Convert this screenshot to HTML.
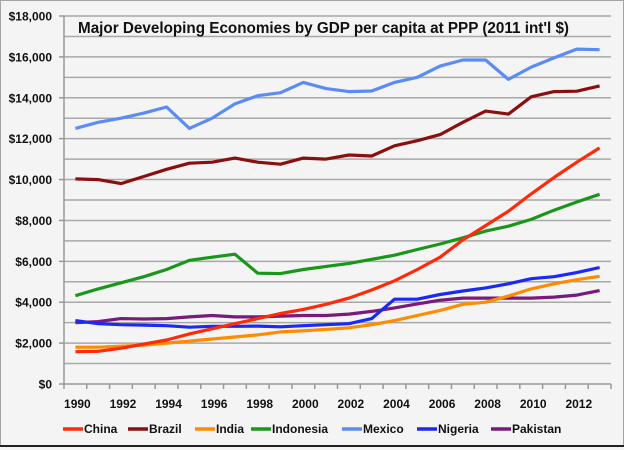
<!DOCTYPE html>
<html><head><meta charset="utf-8"><style>
html,body{margin:0;padding:0;background:#fff;}
svg{display:block;font-family:"Liberation Sans",sans-serif;}
</style></head><body>
<svg id="chart" width="624" height="450" viewBox="0 0 624 450">
<rect x="0" y="0" width="624" height="450" fill="#f4f4f4"/>
<rect x="0.5" y="0.5" width="623" height="445" fill="none" stroke="#555" stroke-dasharray="1,1"/>
<line x1="0" y1="446" x2="624" y2="446" stroke="#222" stroke-width="2"/>
<g id="grid"></g><g id="axes"></g><g id="series"></g><g id="legend"></g>
<text x="78" y="33" font-size="16" font-weight="bold" fill="#111" textLength="491" lengthAdjust="spacingAndGlyphs">Major Developing Economies by GDP per capita at PPP (2011 int'l $)</text>
</svg>
<script>
const years = [1990,1991,1992,1993,1994,1995,1996,1997,1998,1999,2000,2001,2002,2003,2004,2005,2006,2007,2008,2009,2010,2011,2012,2013];
const seriesNames = ["China","Brazil","India","Indonesia","Mexico","Nigeria","Pakistan"];
const seriesColors = ["#ff2a0a","#8b0f0f","#ff8c00","#1a961a","#5b8cf5","#1a2af5","#7a1a7a"];
const china = [1580,1600,1750,1950,2150,2450,2700,2950,3200,3450,3650,3900,4200,4600,5050,5600,6200,7050,7750,8450,9300,10100,10850,11550];
const brazil = [10030,10000,9800,10150,10500,10800,10850,11050,10850,10750,11050,11000,11200,11150,11650,11900,12200,12800,13350,13200,14050,14300,14320,14580];
const india = [1800,1800,1850,1900,2000,2100,2200,2300,2400,2550,2600,2670,2750,2900,3100,3350,3600,3900,4000,4300,4650,4900,5100,5270];
const indonesia = [4320,4650,4950,5250,5600,6050,6200,6350,5420,5400,5600,5750,5900,6100,6300,6580,6850,7150,7480,7720,8050,8500,8900,9280];
const mexico = [12500,12800,13000,13250,13550,12500,13000,13700,14100,14250,14750,14450,14300,14330,14750,15000,15550,15850,15850,14900,15500,15950,16380,16350];
const nigeria = [3100,2950,2900,2880,2850,2780,2820,2820,2830,2800,2850,2900,2950,3200,4150,4150,4380,4550,4700,4900,5150,5250,5450,5700];
const pakistan = [3000,3050,3200,3180,3200,3280,3350,3280,3280,3320,3350,3350,3420,3550,3720,3920,4100,4200,4200,4200,4200,4250,4350,4570];
const seriesData = [china,brazil,india,indonesia,mexico,nigeria,pakistan];
const yTicks = [0,2000,4000,6000,8000,10000,12000,14000,16000,18000];
const xTickLabels = [1990,1992,1994,1996,1998,2000,2002,2004,2006,2008,2010,2012];

const NS="http://www.w3.org/2000/svg";
const L=64,R=611,T=16,B=384,yMax=18000;
const band=(R-L)/years.length;
function xs(i){return L+band*(i+0.5);}
function ys(v){return B-(v/yMax)*(B-T);}
function mk(tag,attrs,parent){const e=document.createElementNS(NS,tag);for(const k in attrs)e.setAttribute(k,attrs[k]);parent.appendChild(e);return e;}
const grid=document.getElementById('grid'),axes=document.getElementById('axes'),ser=document.getElementById('series'),leg=document.getElementById('legend');
for(let v=1000;v<=yMax;v+=1000){
  const g=mk('line',{x1:L,x2:R,y1:ys(v),y2:ys(v),stroke:'#a8a8a8','stroke-width':1.5},grid);
  
  
}
yTicks.forEach(v=>{
  const t=mk('text',{x:52,y:ys(v)+4.5,'text-anchor':'end','font-size':12,'font-weight':'bold',fill:'#111'},axes);
  t.textContent='$'+v.toLocaleString('en-US');
  
  
  const tk=mk('line',{x1:L-5,x2:L,y1:ys(v),y2:ys(v),stroke:'#999','stroke-width':1.5},axes);
  
  
});
const ax=mk('line',{x1:L,x2:L,y1:T,y2:B,stroke:'#999','stroke-width':1.5},axes);


const xa=mk('line',{x1:L,x2:R,y1:B,y2:B,stroke:'#999','stroke-width':1.5},axes);


for(let i=0;i<=years.length;i++){
  const tk=mk('line',{x1:L+band*i,x2:L+band*i,y1:B,y2:B+5,stroke:'#999','stroke-width':1.5},axes);
  
  
}
xTickLabels.forEach(y=>{
  const i=years.indexOf(y);
  const t=mk('text',{x:xs(i)+2,y:408,'text-anchor':'middle','font-size':12,'font-weight':'bold',fill:'#111'},axes);
  t.textContent=y;
  
  
});
const drawOrder=[4,1,6,2,5,3,0];
drawOrder.forEach(s=>{
  const pts=seriesData[s].map((v,i)=>xs(i).toFixed(1)+','+ys(v).toFixed(1)).join(' ');
  const p=mk('polyline',{points:pts,fill:'none',stroke:seriesColors[s],'stroke-width':3.2,'stroke-linejoin':'round'},ser);
  
  
});
const legX=[63,128,195,251,342,417,491];
seriesNames.forEach((n,s)=>{
  const g=mk('g',{},leg);
  
  
  mk('line',{x1:legX[s],x2:legX[s]+20,y1:429,y2:429,stroke:seriesColors[s],'stroke-width':3.5},g);
  const t=mk('text',{x:legX[s]+21,y:433,'font-size':12,'font-weight':'bold',fill:'#111'},g);
  t.textContent=n;
});
</script>
</body></html>
